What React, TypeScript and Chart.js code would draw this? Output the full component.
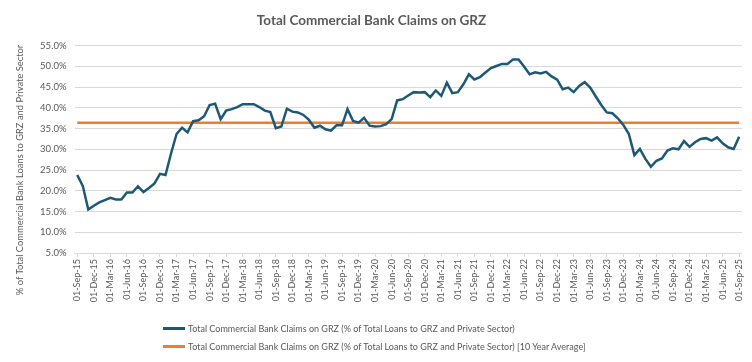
import { useEffect, useRef } from 'react';
import { Chart, registerables } from 'chart.js';

Chart.register(...registerables);

const chartTitle = 'Total Commercial Bank Claims on GRZ';
const yAxisTitle = '% of Total Commercial Bank Loans to GRZ and Private Sector';
const seriesName = 'Total Commercial Bank Claims on GRZ (% of Total Loans to GRZ and Private Sector)';
const averageName = 'Total Commercial Bank Claims on GRZ (% of Total Loans to GRZ and Private Sector) [10 Year Average]';

const monthNames = ['Jan', 'Feb', 'Mar', 'Apr', 'May', 'Jun', 'Jul', 'Aug', 'Sep', 'Oct', 'Nov', 'Dec'];
const startYear = 2015;
const startMonth = 8; // September
const monthCount = 121;

const categories: string[] = [];
for (let i = 0; i < monthCount; i++) {
  const m = (startMonth + i) % 12;
  const y = startYear + Math.floor((startMonth + i) / 12);
  categories.push(`01-${monthNames[m]}-${String(y % 100).padStart(2, '0')}`);
}

const claimsShare = [
  23.8, 21.2, 15.5, 16.4, 17.2, 17.75, 18.3, 17.9, 17.9, 19.6,
  19.6, 21.1, 19.7, 20.7, 21.8, 24.1, 23.8, 29.0, 33.7, 35.2,
  34.1, 36.8, 37.0, 38.0, 40.7, 41.0, 37.3, 39.35, 39.7, 40.2,
  40.9, 40.9, 40.9, 40.2, 39.35, 39.0, 35.1, 35.5, 39.8, 39.1,
  38.9, 38.3, 37.1, 35.2, 35.7, 34.85, 34.5, 35.8, 35.8, 39.7,
  36.85, 36.45, 37.6, 35.7, 35.5, 35.6, 36.1, 37.3,
  41.8, 42.1, 43.0, 43.8, 43.7, 43.8, 42.6, 44.2, 42.9, 46.1,
  43.55, 43.8, 45.7, 48.1, 46.85, 47.4, 48.55, 49.6, 50.1, 50.6,
  50.6, 51.7, 51.7, 50.0, 48.1, 48.6, 48.3, 48.7, 47.6, 46.8,
  44.5, 44.9, 43.8, 45.3, 46.2, 44.9, 42.75, 40.7, 38.9, 38.7,
  37.5, 35.9, 33.7, 28.6, 30.1, 27.7, 25.8, 27.25, 27.8, 29.7,
  30.25, 30.0, 32.0, 30.6, 31.7, 32.5, 32.7, 32.1, 32.9, 31.45,
  30.5, 30.1, 33.05,
];

const tenYearAverage = 36.4;
const averageLine = categories.map(() => tenYearAverage);

const yMin = 5;
const yMax = 55;
const yStep = 5;

const blue = '#1d5877';
const orange = '#ed7d31';
const textGray = '#595959';
const gridGray = '#d9d9d9';
const fontFamily = 'Lato, "Open Sans", sans-serif';

const yTitlePlugin = {
  id: 'yTitlePlugin',
  afterDraw(chart: any) {
    const ctx = chart.ctx;
    ctx.save();
    ctx.translate(20, 170);
    ctx.rotate(-Math.PI / 2);
    ctx.textAlign = 'center';
    ctx.textBaseline = 'middle';
    ctx.fillStyle = textGray;
    ctx.font = `9.4px ${fontFamily}`;
    ctx.fillText(yAxisTitle, 0, 0);
    ctx.restore();
  },
};

export default function App() {
  const canvasRef = useRef<HTMLCanvasElement | null>(null);

  useEffect(() => {
    document.body.style.margin = '0';
    const canvas = canvasRef.current;
    if (!canvas) return;
    Chart.defaults.font.family = fontFamily;
    const chart = new Chart(canvas, {
      type: 'line',
      data: {
        labels: categories,
        datasets: [
          {
            label: seriesName,
            data: claimsShare,
            borderColor: blue,
            backgroundColor: blue,
            borderWidth: 2.5,
            pointRadius: 0,
            tension: 0,
          },
          {
            label: averageName,
            data: averageLine,
            borderColor: orange,
            backgroundColor: orange,
            borderWidth: 2.5,
            pointRadius: 0,
            tension: 0,
          },
        ],
      },
      options: {
        responsive: false,
        animation: false,
        layout: { padding: { top: 0, left: 0, right: 9, bottom: 49 } },
        plugins: {
          legend: { display: false },
          tooltip: { enabled: false },
          title: {
            display: true,
            text: chartTitle,
            color: textGray,
            font: { size: 13.5, weight: 'bold', family: fontFamily },
            padding: { top: 12.5, bottom: 17 },
          },
        },
        scales: {
          x: {
            offset: true,
            grid: {
              display: true,
              drawOnChartArea: false,
              drawTicks: true,
              tickLength: 4,
              color: (c: any) => (c.index % 3 === 0 ? gridGray : 'rgba(0,0,0,0)'),
            },
            border: { display: true, color: gridGray },
            ticks: {
              autoSkip: false,
              maxRotation: 90,
              minRotation: 90,
              padding: 2,
              color: textGray,
              font: { size: 9 },
              callback: (_v: any, i: number) => (i % 3 === 0 ? categories[i] : ''),
            },
            afterFit: (s: any) => {
              s.height = 60;
            },
          },
          y: {
            min: yMin,
            max: yMax,
            ticks: {
              stepSize: yStep,
              padding: 8,
              color: textGray,
              font: { size: 9.5 },
              callback: (v: any) => `${Number(v).toFixed(1)}%`,
            },
            grid: { color: gridGray, drawTicks: false },
            border: { display: false },
            afterFit: (s: any) => {
              s.width = 74.5;
            },
          },
        },
      },
      plugins: [yTitlePlugin],
    });
    return () => chart.destroy();
  }, []);

  const legendRow = (color: string, text: string, top: number) => (
    <div
      style={{
        position: 'absolute',
        left: 163,
        top,
        display: 'flex',
        alignItems: 'center',
        fontFamily,
        fontSize: 9,
        color: textGray,
        whiteSpace: 'nowrap',
      }}
    >
      <span style={{ display: 'inline-block', width: 22, height: 3, background: color, marginRight: 3 }} />
      <span>{text}</span>
    </div>
  );

  return (
    <div style={{ position: 'relative', width: 752, height: 362 }}>
      <canvas ref={canvasRef} width={752} height={362} style={{ display: 'block', width: 752, height: 362 }} />
      {legendRow(blue, seriesName, 323)}
      {legendRow(orange, averageName, 341)}
    </div>
  );
}
